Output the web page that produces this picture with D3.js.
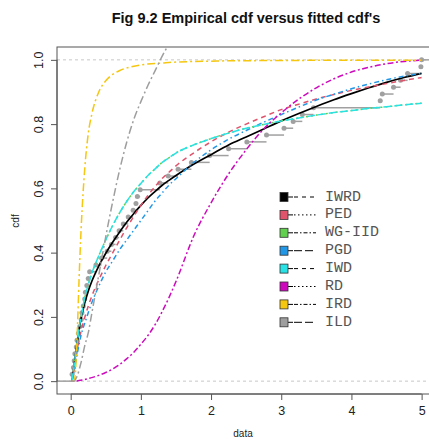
<!DOCTYPE html>
<html>
<head>
<meta charset="utf-8">
<script src="https://cdn.jsdelivr.net/npm/d3@7/dist/d3.min.js"></script>
<style>
  body { margin: 0; background: #fff; }
</style>
</head>
<body>
<svg id="chart" width="429" height="439" font-family="Liberation Sans, Arial, sans-serif"></svg>
<script>
// Observed sample (sorted) used for the empirical cdf
const sample = [0.02, 0.04, 0.05, 0.06, 0.08, 0.09, 0.11, 0.13, 0.15, 0.16,
  0.18, 0.20, 0.21, 0.23, 0.25, 0.27, 0.36, 0.44, 0.52, 0.58,
  0.64, 0.69, 0.75, 0.82, 0.89, 0.93, 0.95, 0.99, 1.27, 1.39,
  1.53, 1.72, 1.98, 2.25, 2.51, 2.79, 3.04, 3.17, 3.30, 3.46,
  4.41, 4.44, 4.60, 4.70, 4.80, 4.99, 5.00];

// Grid of x values at which the fitted cdf's are tabulated
const xGrid = [0.02, 0.05, 0.08, 0.10, 0.12, 0.15, 0.20, 0.25, 0.30, 0.40,
  0.50, 0.60, 0.70, 0.80, 0.90, 1.00, 1.10, 1.20, 1.30, 1.40,
  1.50, 1.75, 2.00, 2.25, 2.50, 2.75, 3.00, 3.25, 3.50, 3.75,
  4.00, 4.25, 4.50, 4.75, 5.00];

const cdfIWRD = [0.000, 0.050, 0.100, 0.130, 0.160, 0.198, 0.243, 0.280, 0.310, 0.358,
  0.398, 0.433, 0.465, 0.495, 0.522, 0.547, 0.570, 0.590, 0.609, 0.625,
  0.640, 0.675, 0.705, 0.735, 0.760, 0.785, 0.810, 0.833, 0.855, 0.876,
  0.895, 0.913, 0.930, 0.945, 0.958];
const cdfPED = [0.000, 0.040, 0.080, 0.105, 0.128, 0.158, 0.198, 0.233, 0.264, 0.315,
  0.360, 0.400, 0.440, 0.478, 0.513, 0.547, 0.578, 0.605, 0.630, 0.650,
  0.670, 0.710, 0.745, 0.775, 0.800, 0.823, 0.845, 0.862, 0.878, 0.892,
  0.905, 0.916, 0.926, 0.936, 0.945];
const cdfWGIID = [0.000, 0.050, 0.100, 0.130, 0.163, 0.200, 0.258, 0.300, 0.335, 0.390,
  0.440, 0.485, 0.525, 0.560, 0.590, 0.615, 0.640, 0.660, 0.680, 0.695,
  0.710, 0.735, 0.755, 0.772, 0.787, 0.799, 0.810, 0.819, 0.828, 0.836,
  0.842, 0.849, 0.854, 0.860, 0.865];
const cdfPGD = [0.000, 0.035, 0.070, 0.093, 0.115, 0.145, 0.180, 0.213, 0.244, 0.295,
  0.340, 0.375, 0.410, 0.440, 0.470, 0.500, 0.530, 0.560, 0.585, 0.610,
  0.630, 0.680, 0.720, 0.753, 0.780, 0.806, 0.830, 0.853, 0.875, 0.893,
  0.910, 0.925, 0.938, 0.949, 0.958];
const cdfIWD = [0.000, 0.050, 0.100, 0.130, 0.165, 0.200, 0.260, 0.300, 0.335, 0.390,
  0.440, 0.485, 0.525, 0.560, 0.590, 0.615, 0.640, 0.660, 0.680, 0.695,
  0.710, 0.735, 0.755, 0.772, 0.787, 0.799, 0.810, 0.819, 0.828, 0.836,
  0.842, 0.849, 0.854, 0.860, 0.865];
const cdfRD = [0.000, 0.000, 0.000, 0.001, 0.002, 0.003, 0.005, 0.008, 0.011, 0.018,
  0.027, 0.038, 0.052, 0.070, 0.090, 0.115, 0.142, 0.175, 0.215, 0.260,
  0.310, 0.450, 0.555, 0.645, 0.720, 0.785, 0.835, 0.878, 0.913, 0.941,
  0.962, 0.977, 0.988, 0.995, 0.999];
const cdfIRD = [0.000, 0.001, 0.075, 0.190, 0.320, 0.480, 0.660, 0.770, 0.830, 0.900,
  0.935, 0.955, 0.967, 0.975, 0.980, 0.984, 0.987, 0.989, 0.990, 0.992,
  0.993, 0.995, 0.996, 0.997, 0.997, 0.998, 0.998, 0.998, 0.999, 0.999,
  0.999, 0.999, 0.999, 0.999, 0.999];
const cdfILD = [0.000, 0.000, 0.010, 0.020, 0.035, 0.060, 0.110, 0.150, 0.210, 0.330,
  0.450, 0.560, 0.660, 0.745, 0.815, 0.870, 0.920, 0.965, 1.010, 1.050,
  1.090, null, null, null, null, null, null, null, null, null,
  null, null, null, null, null];

const seriesNames = ["IWRD", "PED", "WG-IID", "PGD", "IWD", "RD", "IRD", "ILD"];
const seriesValues = [cdfIWRD, cdfPED, cdfWGIID, cdfPGD, cdfIWD, cdfRD, cdfIRD, cdfILD];
const seriesColors = ["#000000", "#DF536B", "#61D04F", "#2297E6", "#28E2E5", "#CD0BBC", "#F5C710", "#9E9E9E"];
const curveDash = [null, "5,4", "2,3", "1.5,3,5,3", "8,3", "2,2.5,6,2.5", "8,3,2,3", "8,3,2,3"];
const legendDash = ["4,4", "1.5,2.5", "4,2,1.5,2", "8,3", "4,4", "1.5,2.5", "4,2,1.5,2", "8,3"];

const xTicks = [0, 1, 2, 3, 4, 5];
const yTicks = [0, 0.2, 0.4, 0.6, 0.8, 1.0];

const titleText = "Fig 9.2 Empirical cdf versus fitted cdf's";
const xLabel = "data";
const yLabel = "cdf";

// ---- layout ----
const plot = { left: 57, right: 436, top: 47, bottom: 394 };
const svg = d3.select("#chart");

const x = d3.scaleLinear().domain([-0.195, 5.205]).range([plot.left, plot.right]);
const y = d3.scaleLinear().domain([-0.04, 1.04]).range([plot.bottom, plot.top]);

svg.append("defs").append("clipPath").attr("id", "plotClip")
  .append("rect")
  .attr("x", plot.left).attr("y", plot.top)
  .attr("width", plot.right - plot.left).attr("height", plot.bottom - plot.top);

// title
svg.append("text")
  .attr("x", 246).attr("y", 23)
  .attr("text-anchor", "middle")
  .attr("font-weight", "bold")
  .attr("font-size", 14.5)
  .attr("fill", "#111")
  .text(titleText);

const g = svg.append("g").attr("clip-path", "url(#plotClip)");

// reference lines at 0 and 1
g.selectAll("line.ref").data([0, 1]).enter().append("line")
  .attr("class", "ref")
  .attr("x1", plot.left).attr("x2", plot.right)
  .attr("y1", d => y(d)).attr("y2", d => y(d))
  .attr("stroke", "#c8c8c8").attr("stroke-width", 1)
  .attr("stroke-dasharray", "3,3");

// empirical cdf: horizontal steps and points
const n = sample.length;
const steps = sample.map((v, i) => ({
  x0: v,
  x1: i < n - 1 ? sample[i + 1] : x.domain()[1],
  p: (i + 1) / n
}));
steps.unshift({ x0: x.domain()[0], x1: sample[0], p: 0 });

g.selectAll("line.step").data(steps).enter().append("line")
  .attr("class", "step")
  .attr("x1", d => x(d.x0)).attr("x2", d => x(d.x1))
  .attr("y1", d => y(d.p)).attr("y2", d => y(d.p))
  .attr("stroke", "#a0a0a0").attr("stroke-width", 1.5);

g.selectAll("circle.pt").data(sample).enter().append("circle")
  .attr("class", "pt")
  .attr("cx", d => x(d)).attr("cy", (d, i) => y((i + 1) / n))
  .attr("r", 2.5)
  .attr("fill", "#a0a0a0");

// fitted cdf curves
const line = d3.line()
  .defined(d => d[1] !== null)
  .x(d => x(d[0])).y(d => y(d[1]))
  .curve(d3.curveMonotoneX);

seriesValues.forEach((vals, k) => {
  const pts = xGrid.map((xv, i) => [xv, vals[i]]);
  g.append("path")
    .datum(pts)
    .attr("d", line)
    .attr("fill", "none")
    .attr("stroke", seriesColors[k])
    .attr("stroke-width", k === 0 ? 1.7 : 1.5)
    .attr("stroke-dasharray", curveDash[k]);
});

// frame
svg.append("rect")
  .attr("x", plot.left).attr("y", plot.top)
  .attr("width", plot.right - plot.left).attr("height", plot.bottom - plot.top)
  .attr("fill", "none").attr("stroke", "#555").attr("stroke-width", 1);

// x axis
const xAxis = svg.append("g")
  .attr("transform", `translate(0,${plot.bottom})`)
  .call(d3.axisBottom(x).tickValues(xTicks).tickFormat(d3.format("d")).tickSize(6).tickPadding(6));
xAxis.attr("font-family", null);
xAxis.select(".domain").attr("d", `M${x(0)},0H${x(5)}`).attr("stroke", "#555");
xAxis.selectAll(".tick line").attr("stroke", "#555");
xAxis.selectAll(".tick text").attr("font-size", 12.5).attr("fill", "#222");

// y axis
const yAxis = svg.append("g")
  .attr("transform", `translate(${plot.left},0)`)
  .call(d3.axisLeft(y).tickValues(yTicks).tickFormat(d3.format(".1f")).tickSize(6).tickPadding(6));
yAxis.attr("font-family", null);
yAxis.select(".domain").attr("d", `M0,${y(0)}V${y(1)}`).attr("stroke", "#555");
yAxis.selectAll(".tick line").attr("stroke", "#555");
yAxis.selectAll(".tick text")
  .attr("font-size", 12.5).attr("fill", "#222")
  .attr("text-anchor", "middle")
  .attr("x", null).attr("dy", null)
  .attr("transform", "translate(-17,0) rotate(-90)")
  .attr("dominant-baseline", "middle");

// axis titles
svg.append("text")
  .attr("x", 243).attr("y", 437)
  .attr("text-anchor", "middle").attr("font-size", 10).attr("fill", "#222")
  .text(xLabel);
svg.append("text")
  .attr("transform", "translate(19,221) rotate(-90)")
  .attr("text-anchor", "middle").attr("font-size", 10).attr("fill", "#222")
  .text(yLabel);

// legend
const legend = svg.append("g").attr("transform", "translate(280,197)");
const rowH = 17.9;
seriesNames.forEach((name, k) => {
  const row = legend.append("g").attr("transform", `translate(0,${k * rowH})`);
  // short solid lead-in joined to the box, then the dash pattern
  row.append("line")
    .attr("x1", 8).attr("x2", 13).attr("y1", 0).attr("y2", 0)
    .attr("stroke", "#000").attr("stroke-width", 1);
  row.append("line")
    .attr("x1", 14).attr("x2", 36).attr("y1", 0).attr("y2", 0)
    .attr("stroke", "#000").attr("stroke-width", 1)
    .attr("stroke-dasharray", legendDash[k]);
  row.append("rect")
    .attr("x", 0).attr("y", -4.5).attr("width", 8).attr("height", 9)
    .attr("fill", seriesColors[k]).attr("stroke", "#333").attr("stroke-width", 0.8);
  row.append("text")
    .attr("x", 45).attr("y", 0)
    .attr("dominant-baseline", "central")
    .attr("font-family", "Liberation Mono, Courier New, monospace")
    .attr("font-size", 15).attr("fill", "#555")
    .text(name);
});
</script>
</body>
</html>
